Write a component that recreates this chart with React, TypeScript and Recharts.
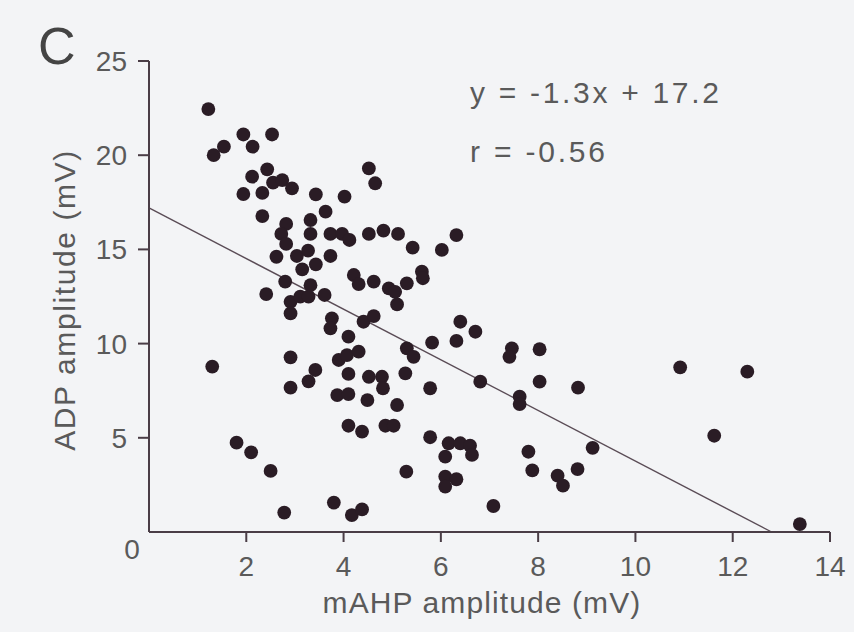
import { ScatterChart, Scatter, XAxis, YAxis, ReferenceLine } from "recharts"

// mAHP amplitude (mV) and ADP amplitude (mV), one entry per cell
const mahp = [
  1.22, 1.94, 2.53, 1.54, 1.33, 2.13, 2.43, 2.12, 2.55, 2.74,
  2.94, 1.94, 2.33, 3.43, 4.02, 3.63, 2.33, 2.82, 3.32, 2.72,
  3.32, 3.73, 3.97, 2.82, 2.62, 3.04, 3.27, 3.73, 3.15, 3.43,
  4.12, 4.52, 4.82, 5.12, 5.42, 6.02, 6.32, 4.52, 4.65, 2.8,
  3.32, 2.41, 2.91, 3.11, 3.28, 3.61, 2.91, 4.21, 4.31, 4.62,
  4.93, 5.06, 5.1, 5.3, 5.61, 5.63, 3.76, 3.73, 4.41, 4.62,
  4.1, 5.82, 5.3, 5.44, 3.9, 4.07, 4.31, 3.42, 4.1, 4.52,
  4.79, 5.27, 3.28, 6.4, 6.71, 6.32, 7.46, 7.41, 8.03, 8.03,
  8.82, 7.62, 7.62, 4.81, 5.78, 6.81, 3.87, 4.1, 4.49, 5.1,
  4.1, 4.38, 4.86, 5.03, 5.78, 6.16, 6.4, 6.6, 6.09, 6.64,
  5.29, 6.09, 6.32, 6.09, 7.8, 7.88, 8.81, 8.4, 8.51, 9.12,
  10.92, 12.3, 11.62, 13.38, 7.08, 3.8, 4.17, 4.38, 2.78, 1.8,
  2.1, 2.5, 1.3, 2.91, 2.91,
]
const adp = [
  22.45, 21.1, 21.1, 20.45, 20.0, 20.45, 19.25, 18.86, 18.54, 18.68,
  18.24, 17.94, 18.0, 17.92, 17.8, 17.0, 16.77, 16.35, 16.56, 15.82,
  15.82, 15.82, 15.82, 15.29, 14.61, 14.65, 14.93, 14.65, 13.94, 14.21,
  15.5, 15.82, 16.0, 15.82, 15.09, 14.97, 15.76, 19.3, 18.51, 13.29,
  13.1, 12.63, 12.22, 12.49, 12.49, 12.58, 11.6, 13.64, 13.16, 13.29,
  12.93, 12.75, 12.08, 13.2, 13.82, 13.47, 11.34, 10.81, 11.16, 11.46,
  10.37, 10.05, 9.75, 9.3, 9.13, 9.39, 9.57, 8.6, 8.39, 8.24,
  8.24, 8.42, 8.0, 11.16, 10.63, 10.14, 9.75, 9.3, 9.7, 7.98,
  7.66, 7.18, 6.79, 7.63, 7.63, 7.98, 7.27, 7.32, 7.0, 6.74,
  5.64, 5.33, 5.64, 5.64, 5.03, 4.71, 4.71, 4.58, 4.0, 4.09,
  3.2, 2.94, 2.8, 2.41, 4.26, 3.27, 3.34, 2.99, 2.46, 4.47,
  8.74, 8.51, 5.11, 0.42, 1.38, 1.56, 0.9, 1.2, 1.03, 4.74,
  4.23, 3.24, 8.78, 9.27, 7.66,
]

const xTicks = [0, 2, 4, 6, 8, 10, 12, 14]
const yTicks = [5, 10, 15, 20, 25]

// fitted line y = -1.3x + 17.2, drawn down to where it meets the x axis
const fitStart = { x: 0, y: 17.2 }
const fitEnd = { x: 12.8, y: 0 }
const equation = "y = -1.3x + 17.2"
const rValue = "r = -0.56"

const data = mahp.map((x, i) => ({ x, y: adp[i] }))

const ink = "#4a3d46"
const textColor = "#5a5a5a"
const font = "'Liberation Sans', Arial, sans-serif"

const XTick = (props: any) => {
  const { x, y, payload } = props
  if (payload.value === 0) {
    return (
      <text x={x - 17} y={y + 27} textAnchor="middle" fill={textColor} fontSize={28} fontFamily={font}>
        0
      </text>
    )
  }
  return (
    <g>
      <line x1={x} y1={y} x2={x} y2={y + 10} stroke={ink} strokeWidth={2} />
      <text x={x} y={y + 44} textAnchor="middle" fill={textColor} fontSize={28} fontFamily={font}>
        {payload.value}
      </text>
    </g>
  )
}

const YTick = (props: any) => {
  const { x, y, payload } = props
  return (
    <g>
      <line x1={x} y1={y} x2={x - 11} y2={y} stroke={ink} strokeWidth={2} />
      <text x={x - 22} y={y + 10} textAnchor="end" fill={textColor} fontSize={28} fontFamily={font}>
        {payload.value}
      </text>
    </g>
  )
}

const Dot = (props: any) => <circle cx={props.cx} cy={props.cy} r={6.9} fill="#2a1c25" />

export default function App() {
  return (
    <div style={{ position: "absolute", left: 0, top: 0, width: 854, height: 632, background: "#f3f4f6", fontFamily: font }}>
      <ScatterChart width={854} height={632} margin={{ top: 61, right: 24, bottom: 0, left: 0 }}>
        <XAxis
          type="number"
          dataKey="x"
          domain={[0, 14]}
          ticks={xTicks}
          height={100}
          tickSize={0}
          tickMargin={0}
          tickLine={false}
          axisLine={{ stroke: ink, strokeWidth: 2 }}
          tick={<XTick />}
          interval={0}
        />
        <YAxis
          type="number"
          dataKey="y"
          domain={[0, 25]}
          ticks={yTicks}
          width={149}
          tickSize={0}
          tickMargin={0}
          tickLine={false}
          axisLine={{ stroke: ink, strokeWidth: 2 }}
          tick={<YTick />}
          interval={0}
        />
        <ReferenceLine segment={[fitStart, fitEnd]} stroke="#5a4c56" strokeWidth={1.4} />
        <Scatter data={data} shape={<Dot />} isAnimationActive={false} />
      </ScatterChart>
      <div style={{ position: "absolute", left: 38, top: 20, fontSize: 52, color: "#444", lineHeight: 1 }}>C</div>
      <div style={{ position: "absolute", left: 470, top: 78, fontSize: 30, letterSpacing: 2.7, color: textColor, lineHeight: 1, whiteSpace: "pre" }}>
        {equation}
      </div>
      <div style={{ position: "absolute", left: 470, top: 137, fontSize: 30, letterSpacing: 2.8, color: textColor, lineHeight: 1, whiteSpace: "pre" }}>
        {rValue}
      </div>
      <div style={{ position: "absolute", left: 482, top: 588, transform: "translateX(-50%)", fontSize: 30, letterSpacing: 1.1, color: textColor, lineHeight: 1, whiteSpace: "nowrap" }}>
        mAHP amplitude (mV)
      </div>
      <div style={{ position: "absolute", left: 65, top: 300, transform: "translate(-50%, -50%) rotate(-90deg)", fontSize: 30, letterSpacing: 1.6, color: textColor, lineHeight: 1, whiteSpace: "nowrap" }}>
        ADP amplitude (mV)
      </div>
    </div>
  )
}
